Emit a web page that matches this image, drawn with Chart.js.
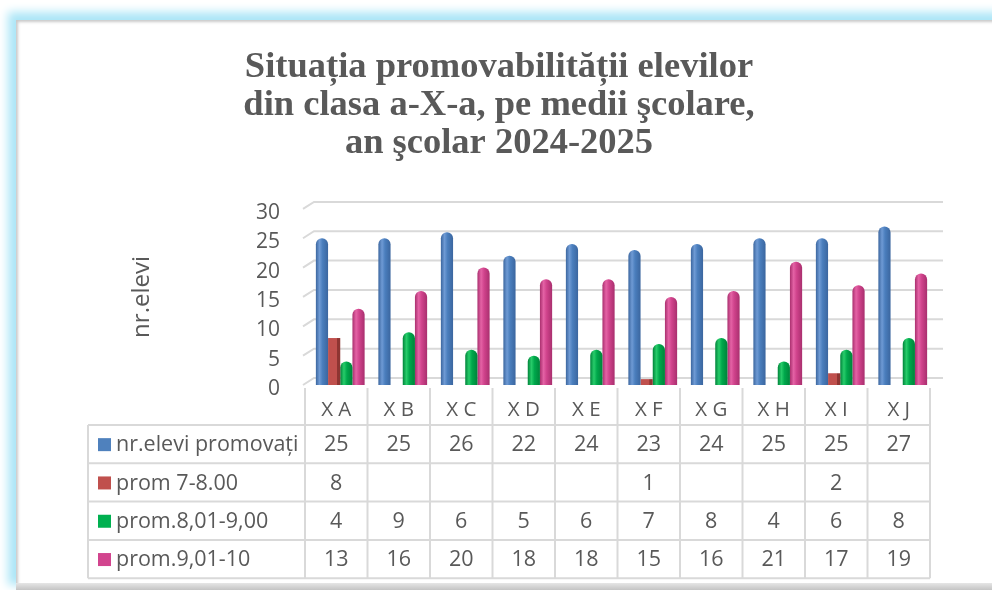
<!DOCTYPE html>
<html>
<head>
<meta charset="utf-8">
<script src="https://cdn.jsdelivr.net/npm/chart.js@4"></script>
<style>
  html, body { margin: 0; padding: 0; background: #fff; overflow: hidden; }
  #panel {
    position: absolute; left: 16px; top: 20px; width: 990px; height: 563px;
    background: #fff;
    box-shadow: -3px -3px 9px 5px #ace6f7, inset 3px 3px 3px -1px #c9c9c9;
  }
  #floor {
    position: absolute; left: 16px; top: 583px; width: 990px; height: 7px;
    background: linear-gradient(#e6e6e6, #c4c4c4);
  }
  #c { position: absolute; left: 0; top: 0; }
</style>
</head>
<body>
<div id="panel"></div>
<div id="floor"></div>
<canvas id="c" width="992" height="590"></canvas>
<script>
const classes = ['X A', 'X B', 'X C', 'X D', 'X E', 'X F', 'X G', 'X H', 'X I', 'X J'];
const promovati = [25, 25, 26, 22, 24, 23, 24, 25, 25, 27];
const prom7_8 = [8, null, null, null, null, 1, null, null, 2, null];
const prom8_9 = [4, 9, 6, 5, 6, 7, 8, 4, 6, 8];
const prom9_10 = [13, 16, 20, 18, 18, 15, 16, 21, 17, 19];
const seriesNames = ['nr.elevi promovați', 'prom 7-8.00', 'prom.8,01-9,00', 'prom.9,01-10'];
const yTicks = [0, 5, 10, 15, 20, 25, 30];

const FONT = "'Open Sans', sans-serif";
const TEXT = '#595959';
const LINE = '#d9d9d9';

// shading for the round bars: dark edge, light stripe, dark edge
function shade(base, light, dark, box) {
    return function (ctx) {
        const bar = ctx.chart.getDatasetMeta(ctx.datasetIndex).data[ctx.dataIndex];
        if (!bar || !bar.width) return base;
        const x0 = bar.x - bar.width / 2, x1 = bar.x + bar.width / 2;
        const g = ctx.chart.ctx.createLinearGradient(x0, 0, x1, 0);
        if (box) {
            g.addColorStop(0, base);
            g.addColorStop(0.72, base);
            g.addColorStop(0.74, dark);
            g.addColorStop(1, dark);
        } else {
            g.addColorStop(0, dark);
            g.addColorStop(0.3, light);
            g.addColorStop(0.55, base);
            g.addColorStop(1, dark);
        }
        return g;
    };
}

const colors = ['#4f81bd', '#c0504d', '#00b050', '#d2448e'];
const round = { topLeft: 6, topRight: 6, bottomLeft: 0, bottomRight: 0 };

// back wall grid lines with a little depth
const wallGrid = {
    id: 'wallGrid',
    beforeDatasetsDraw(chart) {
        const { ctx, chartArea: { left, right }, scales: { y } } = chart;
        ctx.save();
        ctx.strokeStyle = LINE;
        ctx.lineWidth = 2;
        yTicks.forEach(v => {
            const py = y.getPixelForValue(v);
            ctx.beginPath();
            ctx.moveTo(left - 6, py);
            ctx.lineTo(left + 5, py - 7);
            ctx.lineTo(right + 9, py - 7);
            ctx.stroke();
        });
        ctx.restore();
    }
};

// data table under the chart
const dataTable = {
    id: 'dataTable',
    afterDraw(chart) {
        const { ctx, chartArea, scales: { x } } = chart;
        const colW = chartArea.width / classes.length;
        const colLeft = chartArea.left - 4;
        const top = x.bottom;
        const rowH = 38.3;
        const labelLeft = 88;
        const rows = [promovati, prom7_8, prom8_9, prom9_10];
        const bottom = top + rowH * rows.length;

        ctx.save();
        ctx.strokeStyle = LINE;
        ctx.lineWidth = 2;
        ctx.beginPath();
        for (let i = 0; i <= classes.length; i++) {
            const px = colLeft + i * colW;
            ctx.moveTo(px, chartArea.bottom + 3);
            ctx.lineTo(px, bottom);
        }
        ctx.moveTo(labelLeft, top);
        ctx.lineTo(labelLeft, bottom);
        for (let r = 0; r <= rows.length; r++) {
            const py = top + r * rowH;
            ctx.moveTo(labelLeft, py);
            ctx.lineTo(colLeft + classes.length * colW, py);
        }
        ctx.stroke();

        ctx.font = '21.5px ' + FONT;
        ctx.fillStyle = TEXT;
        ctx.textBaseline = 'middle';
        rows.forEach((vals, r) => {
            const cy = top + r * rowH + rowH / 2;
            ctx.fillStyle = colors[r];
            ctx.fillRect(98, cy - 6, 13, 13);
            ctx.fillStyle = TEXT;
            ctx.textAlign = 'left';
            ctx.fillText(seriesNames[r], 116, cy + 1);
            ctx.textAlign = 'center';
            vals.forEach((v, i) => {
                if (v === null) return;
                ctx.fillText(String(v), colLeft + colW * (i + 0.5), cy + 1);
            });
        });
        ctx.restore();
    }
};

const chart = new Chart(document.getElementById('c'), {
    type: 'bar',
    data: {
        labels: classes,
        datasets: [
            { label: seriesNames[0], data: promovati, backgroundColor: shade('#4a7ebd', '#6e9ad4', '#3b669f'), borderRadius: round, borderSkipped: 'bottom' },
            { label: seriesNames[1], data: prom7_8, backgroundColor: shade('#c0504d', '#c0504d', '#8e3532', true), borderRadius: 0 },
            { label: seriesNames[2], data: prom8_9, backgroundColor: shade('#00a84b', '#27cc6a', '#00833a'), borderRadius: round, borderSkipped: 'bottom' },
            { label: seriesNames[3], data: prom9_10, backgroundColor: shade('#d0438c', '#e462a5', '#a92f6e'), borderRadius: round, borderSkipped: 'bottom' }
        ]
    },
    options: {
        responsive: false,
        animation: false,
        events: [],
        layout: { padding: { left: 16, right: 10, top: 20, bottom: 165 } },
        datasets: { bar: { categoryPercentage: 0.78, barPercentage: 1 } },
        plugins: {
            legend: { display: false },
            tooltip: { enabled: false },
            title: {
                display: true,
                text: ['Situația promovabilității elevilor', 'din clasa a-X-a, pe medii şcolare,', 'an şcolar 2024-2025'],
                color: TEXT,
                font: { family: "'Liberation Serif', 'Times New Roman', serif", size: 36.5, weight: 'bold', lineHeight: 1.04 },
                padding: { top: 29, bottom: 46 }
            }
        },
        scales: {
            x: {
                grid: { display: false, drawTicks: false },
                border: { display: false },
                ticks: { color: TEXT, font: { family: FONT, size: 20.5 }, padding: 13, labelOffset: -4 },
                afterFit(a) { a.height = 40; }
            },
            y: {
                min: 0,
                max: 30,
                grid: { display: false, drawTicks: false },
                border: { display: false },
                ticks: { stepSize: 5, color: TEXT, font: { family: FONT, size: 21 }, padding: 29, labelOffset: 4 },
                afterBuildTicks(a) { a.ticks = yTicks.map(v => ({ value: v })); },
                title: {
                    display: true,
                    text: 'nr.elevi',
                    color: TEXT,
                    font: { family: FONT, size: 24 },
                    padding: { top: 112 }
                },
                afterFit(a) { a.width = 293; }
            },
            yR: {
                position: 'right',
                grid: { display: false, drawTicks: false },
                border: { display: false },
                ticks: { display: false },
                afterFit(a) { a.width = 48; }
            }
        }
    },
    plugins: [wallGrid, dataTable]
});
// second pass so the bar shading knows where each bar is
chart.update();
</script>
</body>
</html>
